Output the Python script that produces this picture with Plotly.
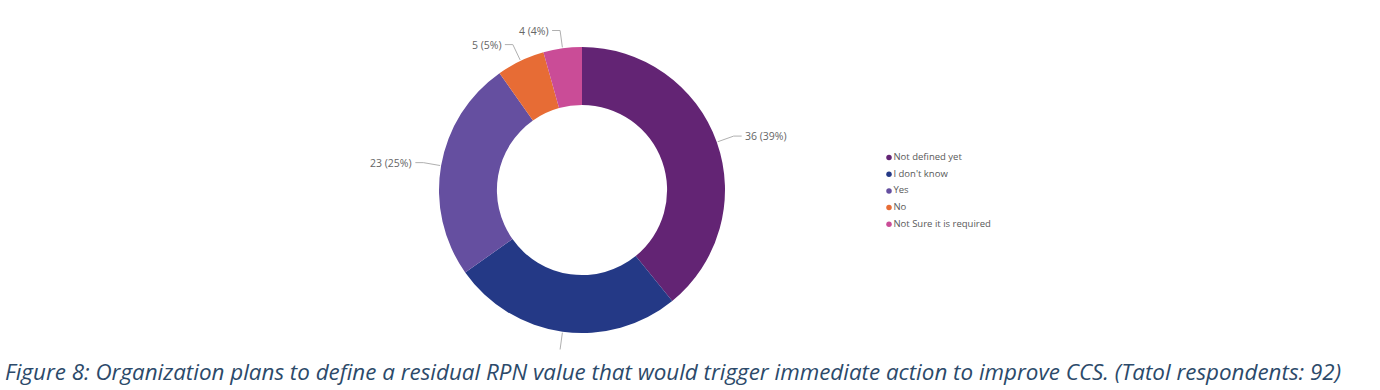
import math
import plotly.graph_objects as go

categories = ["Not defined yet", "I don't know", "Yes", "No", "Not Sure it is required"]
values = [36, 24, 23, 5, 4]
colors = ["#632474", "#243986", "#654fa0", "#e76c35", "#ca4c97"]
show_label = [True, False, True, True, True]

W, H = 1380, 390
CX, CY, R = 582, 190, 143
HOLE = 0.595
LEG_X, LEG_Y0, LEG_DY = 889, 157.5, 16.7

total = sum(values)
fig = go.Figure()

fig.add_trace(go.Pie(
    labels=categories, values=values, sort=False, direction="clockwise", rotation=0,
    hole=HOLE, marker=dict(colors=colors, line=dict(width=0)),
    textinfo="none", hoverinfo="label+value+percent", showlegend=False,
    domain=dict(x=[(CX - R) / W, (CX + R) / W], y=[1 - (CY + R) / H, 1 - (CY - R) / H]),
))

# legend drawn as a marker+text scatter in pixel-scaled hidden axes
fig.add_trace(go.Scatter(
    x=[LEG_X] * len(categories),
    y=[LEG_Y0 + i * LEG_DY for i in range(len(categories))],
    mode="markers+text", text=categories, textposition="middle right",
    marker=dict(color=colors, size=5.5, symbol="circle"),
    textfont=dict(family="Open Sans, sans-serif", size=9.5, color="#595959"),
    showlegend=False, hoverinfo="text", cliponaxis=False,
))

# outside labels with leader lines computed from the slice angles
cum = 0
for v, col, show in zip(values, colors, show_label):
    mid = (cum + v / 2) / total * 2 * math.pi
    cum += v
    sx, sy = math.sin(mid), -math.cos(mid)
    x1, y1 = CX + (R + 1) * sx, CY + (R + 1) * sy
    x2, y2 = CX + (R + 18) * sx, CY + (R + 18) * sy
    side = 1 if sx >= 0 else -1
    if not show:
        fig.add_shape(type="line", x0=x1, y0=y1, x1=x2, y1=y2, xref="x", yref="y",
                      line=dict(color="#b0b0b0", width=1))
        continue
    x3 = x2 + side * 8
    fig.add_shape(type="path", xref="x", yref="y",
                  path=f"M {x1},{y1} L {x2},{y2} L {x3},{y2}",
                  line=dict(color="#b0b0b0", width=1))
    pct = round(v / total * 100)
    fig.add_annotation(x=x3 + side * 1, y=y2, xref="x", yref="y", showarrow=False,
                       text=f"{v} ({pct}%)", xanchor="left" if side > 0 else "right",
                       yanchor="middle",
                       font=dict(family="Open Sans, sans-serif", size=10.5, color="#666666"))

fig.add_annotation(x=3, y=371, xref="x", yref="y", showarrow=False, xanchor="left",
                   yanchor="middle",
                   text="<i>Figure 8: Organization plans to define a residual RPN value that would trigger immediate action to improve CCS. (Tatol respondents: 92)</i>",
                   font=dict(family="Open Sans, sans-serif", size=22.4, color="#2c4a6a"))

fig.update_layout(
    width=W, height=H, margin=dict(l=0, r=0, t=0, b=0),
    paper_bgcolor="white", plot_bgcolor="white",
    xaxis=dict(range=[0, W], visible=False, domain=[0, 1], fixedrange=True),
    yaxis=dict(range=[H, 0], visible=False, domain=[0, 1], fixedrange=True),
    showlegend=False,
)
fig.write_html("out.html", config={"displayModeBar": False},
               post_script="document.body.style.margin='0';")
